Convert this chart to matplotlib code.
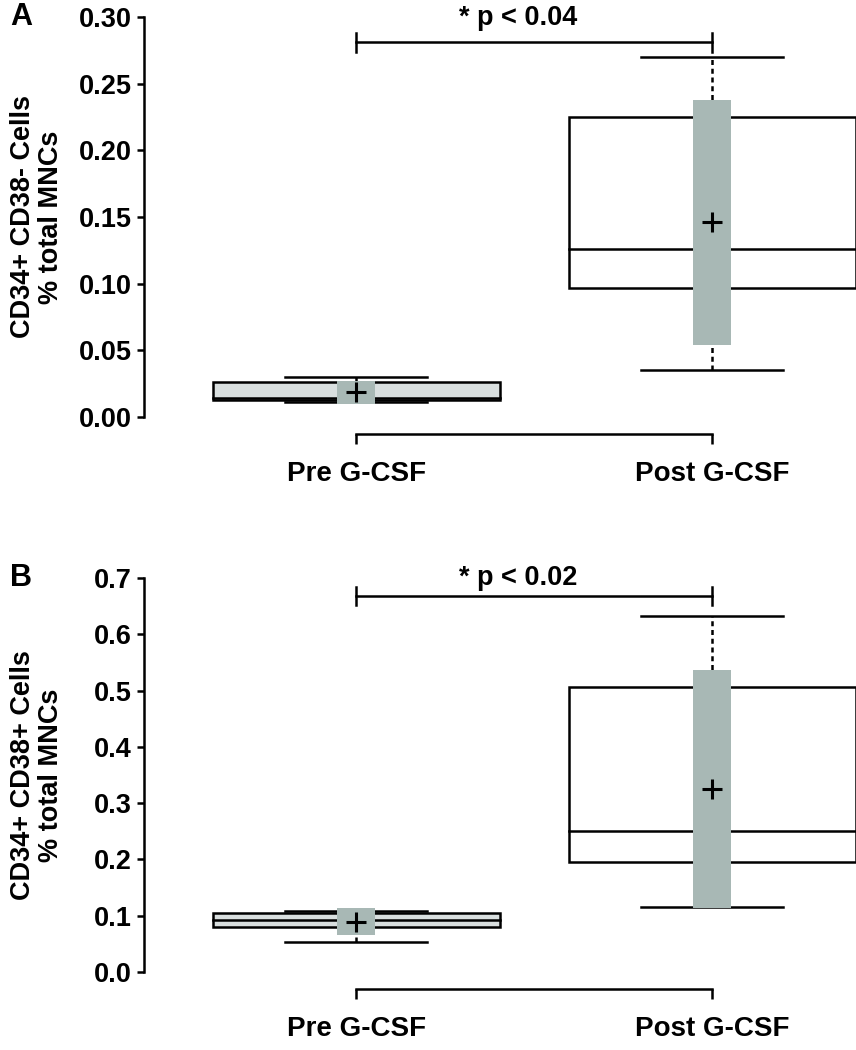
import matplotlib
matplotlib.use("Agg")
import matplotlib.pyplot as plt
import numpy as np

plt.rcParams['font.family'] = ['Liberation Sans', 'DejaVu Sans']
plt.rcParams['font.weight'] = 'bold'

groups = ['Pre G-CSF', 'Post G-CSF']

# panel A: CD34+ CD38-
a_min = [0.0113, 0.035]
a_q1 = [0.013, 0.097]
a_med = [0.014, 0.126]
a_q3 = [0.026, 0.225]
a_max = [0.030, 0.270]
a_mean = [0.0185, 0.146]
a_sd = [0.0088, 0.092]
a_ticks = [0.00, 0.05, 0.10, 0.15, 0.20, 0.25, 0.30]
a_tick_labels = ['0.00', '0.05', '0.10', '0.15', '0.20', '0.25', '0.30']

# panel B: CD34+ CD38+
b_min = [0.054, 0.115]
b_q1 = [0.080, 0.195]
b_med = [0.093, 0.250]
b_q3 = [0.105, 0.507]
b_max = [0.109, 0.632]
b_mean = [0.089, 0.325]
b_sd = [0.024, 0.212]
b_ticks = [0.0, 0.1, 0.2, 0.3, 0.4, 0.5, 0.6, 0.7]
b_tick_labels = ['0.0', '0.1', '0.2', '0.3', '0.4', '0.5', '0.6', '0.7']

box_fill = ['#d9dfdf', 'white']
bar_col = '#a8b8b5'
lw = 1.8
W, H = 856, 1050

fig = plt.figure(figsize=(W / 100, H / 100), dpi=100)


def panel(rect, letter, ylab, mn, q1, md, q3, mx, mean, sd, ticks, tlabels, ptxt, brk_y, txt_y):
    ax = fig.add_axes(rect)
    x = np.arange(len(groups))
    for i in x:
        # whiskers (dashed), hidden behind grey bar where they overlap
        ax.plot([i, i], [q3[i], mx[i]], color='black', lw=lw, ls=(0, (2, 1.5)), zorder=1)
        ax.plot([i, i], [mn[i], q1[i]], color='black', lw=lw, ls=(0, (2, 1.5)), zorder=1)
        # caps
        ax.plot([i - 0.2, i + 0.2], [mx[i], mx[i]], color='black', lw=lw, zorder=1)
        ax.plot([i - 0.2, i + 0.2], [mn[i], mn[i]], color='black', lw=lw, zorder=1)
    # boxes
    ax.bar(x, np.array(q3) - np.array(q1), bottom=q1, width=0.806,
           color=box_fill, edgecolor='black', linewidth=lw, zorder=2)
    for i in x:
        ax.plot([i - 0.403, i + 0.403], [md[i], md[i]], color='black', lw=lw, zorder=2)
    # mean +/- sd bar
    ax.bar(x, 2 * np.array(sd), bottom=np.array(mean) - np.array(sd), width=0.107,
           color=bar_col, edgecolor='none', zorder=3)
    ax.plot(x, mean, ls='none', marker='+', color='black', ms=15, mew=2.2, zorder=4)

    ax.set_xlim(-0.596, 1.404)
    ax.set_ylim(ticks[0], ticks[-1])
    for s in ['top', 'right']:
        ax.spines[s].set_visible(False)
    ax.spines['left'].set_linewidth(lw)
    ax.spines['bottom'].set_linewidth(lw)
    ax.spines['bottom'].set_position(('outward', 12))
    ax.spines['bottom'].set_bounds(0, 1)
    ax.set_xticks(x)
    ax.set_xticklabels(groups, fontsize=20, fontweight='bold')
    ax.tick_params(axis='x', length=7, width=lw, pad=13)
    ax.set_yticks(ticks)
    ax.set_yticklabels(tlabels, fontsize=19.5, fontweight='bold')
    ax.tick_params(axis='y', length=5, width=lw, pad=4)
    ax.set_ylabel(ylab, fontsize=19.5, fontweight='bold', linespacing=1.1)
    ax.yaxis.set_label_coords(-0.113, 0.5)

    # significance bracket
    h = (ticks[-1] - ticks[0]) * 0.024
    ax.plot([0, 1], [brk_y, brk_y], color='black', lw=lw, clip_on=False)
    ax.plot([0, 0], [brk_y - h, brk_y + h], color='black', lw=lw, clip_on=False)
    ax.plot([1, 1], [brk_y - h, brk_y + h], color='black', lw=lw, clip_on=False)
    ax.text(0.455, txt_y, ptxt, ha='center', va='center', fontsize=19.5, fontweight='bold')

    fig.text(10 / W, rect[1] + rect[3], letter, ha='left', va='center', fontsize=22, fontweight='bold')
    return ax


panel([144 / W, (H - 417) / H, 712 / W, 400 / H], 'A', 'CD34+ CD38- Cells\n% total MNCs',
      a_min, a_q1, a_med, a_q3, a_max, a_mean, a_sd, a_ticks, a_tick_labels,
      '* p < 0.04', 0.281, 0.299)
panel([144 / W, (H - 972) / H, 712 / W, 394 / H], 'B', 'CD34+ CD38+ Cells\n% total MNCs',
      b_min, b_q1, b_med, b_q3, b_max, b_mean, b_sd, b_ticks, b_tick_labels,
      '* p < 0.02', 0.668, 0.700)

fig.savefig('out.png', dpi=100)
